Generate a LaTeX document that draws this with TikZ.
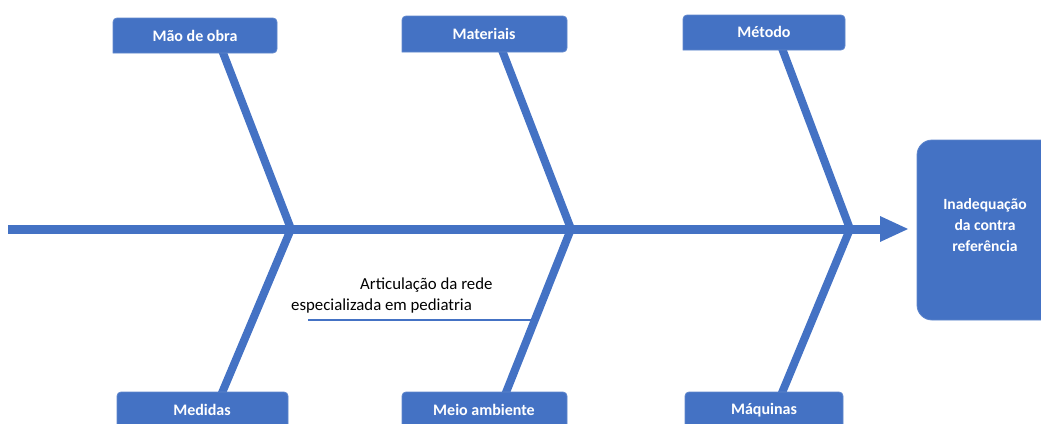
\documentclass[tikz,border=0pt]{standalone}
\usepackage{fontspec}
\setmainfont{Carlito}
\definecolor{obl}{HTML}{4472C4}
\definecolor{obd}{HTML}{5F86CC}
\begin{document}
\begin{tikzpicture}[x=1pt,y=-1pt,
  catbox/.style={fill=obl,draw=obd,line width=0.8pt,rounded corners=4pt},
  cattext/.style={text=white,font=\bfseries\fontsize{16}{18}\selectfont,inner sep=0pt},
  bone/.style={draw=obl,line width=8pt},
  spine/.style={draw=obl,line width=9pt},
  note/.style={font=\fontsize{16.8}{19}\selectfont,inner sep=0pt,anchor=west}]
\useasboundingbox (0,0) rectangle (1041,423);
\clip (0,0) rectangle (1041,423);
% coordinates
\coordinate (s0) at (8,229);
\coordinate (j1) at (291,229);
\coordinate (j2) at (571,229);
\coordinate (j3) at (850,229);
\coordinate (head) at (881,229);
\coordinate (t1) at (220,45);
\coordinate (t2) at (500,45);
\coordinate (t3) at (780,43);
\coordinate (b1) at (219,400);
\coordinate (b2) at (503,400);
\coordinate (b3) at (779,400);
\coordinate (sb) at (308,320);
\coordinate (se) at (531,320);
% spine
\draw[spine] (s0) -- (head);
\fill[obl] (880,216) -- (908,229) -- (880,242) -- cycle;
% bones
\draw[bone] (t1) -- (j1) -- (b1);
\draw[bone] (t2) -- (j2) -- (b2);
\draw[bone] (t3) -- (j3) -- (b3);
\draw[draw=obl,line width=2pt] (sb) -- (se);
% top boxes
\draw[catbox] (113,53) -- (113,18) -- (277,18) -- (277,53) [sharp corners] -- cycle;
\node[cattext] (mao) at (195,36) {Mão de obra};
\draw[catbox] (402,52) -- (402,16) -- (567,16) -- (567,52) [sharp corners] -- cycle;
\node[cattext] (mat) at (484,34) {Materiais};
\draw[catbox] (683,50) -- (683,15) -- (845,15) -- (845,50) [sharp corners] -- cycle;
\node[cattext] (met) at (764,32) {Método};
% bottom boxes
\draw[catbox] (117,440) -- (117,392) -- (288,392) -- (288,440) [sharp corners] -- cycle;
\node[cattext] (med) at (202,410) {Medidas};
\draw[catbox] (402,440) -- (402,392) -- (567,392) -- (567,440) [sharp corners] -- cycle;
\node[cattext] (mei) at (484,410) {Meio ambiente};
\draw[catbox] (685,440) -- (685,392) -- (843,392) -- (843,440) [sharp corners] -- cycle;
\node[cattext] (maq) at (764,410) {Máquinas};
% effect box
\draw[fill=obl,draw=obd,line width=0.8pt,rounded corners=15pt] (917,140) rectangle (1060,320);
\node[text=white,font=\bfseries\fontsize{15.6}{21}\selectfont,align=center,inner sep=0pt] (eff) at (985,225) {Inadequação\\da contra\\referência};
% note
\node[note] (n1) at (360,285) {Articulação da rede};
\node[note] (n2) at (291,306) {especializada em pediatria};
\end{tikzpicture}
\end{document}
